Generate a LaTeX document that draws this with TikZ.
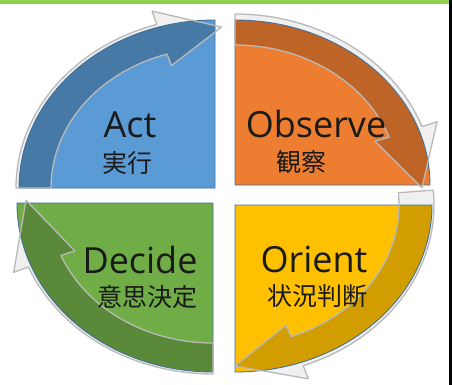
\documentclass[tikz,border=0pt]{standalone}
\usepackage{fontspec}
\newfontfamily\latfont{Open Sans}
\newfontfamily\cjkfont{Noto Sans CJK JP}
\definecolor{qblue}{HTML}{5B9BD5}
\definecolor{qorange}{HTML}{ED7D31}
\definecolor{qyellow}{HTML}{FFC000}
\definecolor{qgreen}{HTML}{70AD47}
\definecolor{qedge}{HTML}{41719C}
\definecolor{topbar}{HTML}{92D050}
\definecolor{txt}{HTML}{1A1A1A}
% arrow along the outer arc of a quadrant: #1 options, #2 tail angle, #3 head-base angle, #4 tip angle
\newcommand\cyclearrow[4]{%
  \path[#1] (#2:199 and 171) arc[start angle=#2,end angle=#3,x radius=199,y radius=171]
    -- (#3:215 and 185) -- (#4:187 and 161) -- (#3:149 and 128) -- (#3:164 and 140)
    arc[start angle=#3,end angle=#2,x radius=164,y radius=140] -- cycle;}
\begin{document}
\begin{tikzpicture}[x=1pt,y=-1pt,
  quad/.style={draw=qedge,line width=0.9pt},
  arrowlight/.style={fill=gray!12},
  arrowline/.style={draw=gray!55,line width=1.3pt,line join=round},
  latin/.style={font=\latfont\fontsize{36}{36}\selectfont,text=txt,inner sep=0pt,anchor=base},
  kanji/.style={font=\cjkfont\fontsize{25}{25}\selectfont,text=txt,inner sep=0pt}]
\useasboundingbox (0,0) rectangle (452,385);
\fill[white] (0,0) rectangle (452,385);
\fill[topbar] (0,0) rectangle (449,4);
\fill[black] (449,0) rectangle (452,385);
% quadrants (fill)
\begin{scope}[shift={(215,188)}]
  \path[fill=qblue] (0,0) -- (180:196 and 168) arc[start angle=180,end angle=270,x radius=196,y radius=168] -- cycle;
\end{scope}
\begin{scope}[shift={(235,185)}]
  \path[fill=qorange] (0,0) -- (270:195 and 165) arc[start angle=270,end angle=360,x radius=195,y radius=165] -- cycle;
\end{scope}
\begin{scope}[shift={(235,205)}]
  \path[fill=qyellow] (0,0) -- (0:197 and 167) arc[start angle=0,end angle=90,x radius=197,y radius=167] -- cycle;
\end{scope}
\begin{scope}[shift={(213,203)}]
  \path[fill=qgreen] (0,0) -- (90:196 and 169) arc[start angle=90,end angle=180,x radius=196,y radius=169] -- cycle;
\end{scope}
% arrows (fill)
\begin{scope}[shift={(215,188)}]
  \cyclearrow{arrowlight}{180}{253}{272}
  \begin{scope}
    \clip (0,0) -- (180:196 and 168) arc[start angle=180,end angle=270,x radius=196,y radius=168] -- cycle;
    \cyclearrow{fill=qblue!78!black}{180}{253}{272}
  \end{scope}
\end{scope}
\begin{scope}[shift={(235,185)}]
  \cyclearrow{arrowlight}{270}{340}{361}
  \begin{scope}
    \clip (0,0) -- (270:195 and 165) arc[start angle=270,end angle=360,x radius=195,y radius=165] -- cycle;
    \cyclearrow{fill=qorange!80!black}{270}{340}{361}
  \end{scope}
\end{scope}
\begin{scope}[shift={(235,205)}]
  \cyclearrow{arrowlight}{-5}{70}{90}
  \begin{scope}
    \clip (0,0) -- (0:197 and 167) arc[start angle=0,end angle=90,x radius=197,y radius=167] -- cycle;
    \cyclearrow{fill=qyellow!82!black}{-5}{70}{90}
  \end{scope}
\end{scope}
\begin{scope}[shift={(213,203)}]
  \cyclearrow{arrowlight}{90}{158}{181}
  \begin{scope}
    \clip (0,0) -- (90:196 and 169) arc[start angle=90,end angle=180,x radius=196,y radius=169] -- cycle;
    \cyclearrow{fill=qgreen!80!black}{90}{158}{181}
  \end{scope}
\end{scope}
% quadrant outlines
\begin{scope}[shift={(215,188)}]
  \path[quad] (0,0) -- (180:196 and 168) arc[start angle=180,end angle=270,x radius=196,y radius=168] -- cycle;
\end{scope}
\begin{scope}[shift={(235,185)}]
  \path[quad] (0,0) -- (270:195 and 165) arc[start angle=270,end angle=360,x radius=195,y radius=165] -- cycle;
\end{scope}
\begin{scope}[shift={(235,205)}]
  \path[quad] (0,0) -- (0:197 and 167) arc[start angle=0,end angle=90,x radius=197,y radius=167] -- cycle;
\end{scope}
\begin{scope}[shift={(213,203)}]
  \path[quad] (0,0) -- (90:196 and 169) arc[start angle=90,end angle=180,x radius=196,y radius=169] -- cycle;
\end{scope}
% arrow outlines
\begin{scope}[shift={(215,188)}]
  \cyclearrow{arrowline}{180}{253}{272}
\end{scope}
\begin{scope}[shift={(235,185)}]
  \cyclearrow{arrowline}{270}{340}{361}
\end{scope}
\begin{scope}[shift={(235,205)}]
  \cyclearrow{arrowline}{-5}{70}{90}
\end{scope}
\begin{scope}[shift={(213,203)}]
  \cyclearrow{arrowline}{90}{158}{181}
\end{scope}
% labels
\node[latin] (act) at (130,138) {Act};
\node[kanji] (actj) at (127,163) {実行};
\node[latin] (obs) at (316,138) {Observe};
\node[kanji] (obsj) at (301,162) {観察};
\node[latin] (ori) at (314,272) {Orient};
\node[kanji] (orij) at (317,296) {状況判断};
\node[latin] (dec) at (140,273) {Decide};
\node[kanji] (decj) at (147,297) {意思決定};
\end{tikzpicture}
\end{document}
